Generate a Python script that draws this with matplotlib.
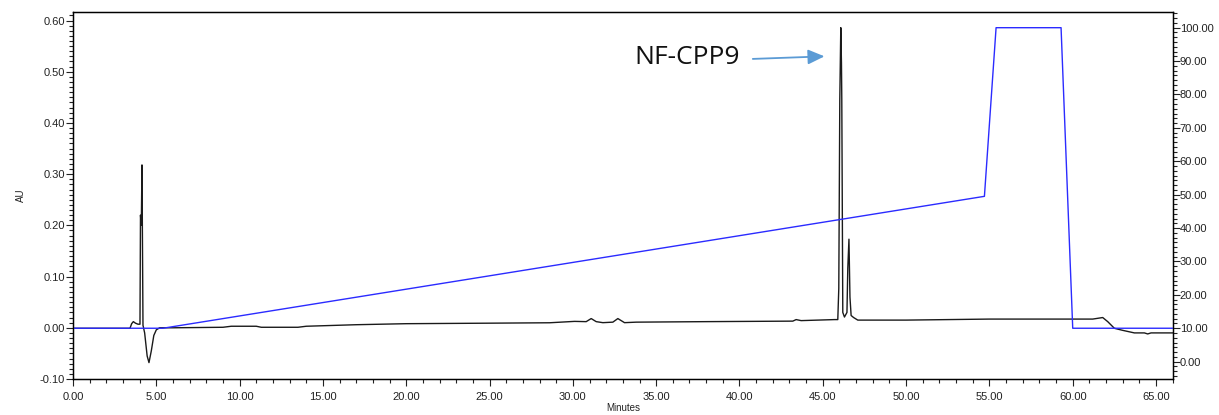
import matplotlib
matplotlib.use("Agg")
import matplotlib.pyplot as plt
from matplotlib.ticker import MultipleLocator, FormatStrFormatter, AutoMinorLocator

# ---- data -------------------------------------------------------------
time_min = [0.0, 3.42, 3.52, 3.62, 3.75, 3.9, 4.02, 4.05, 4.1, 4.14, 4.2, 4.3,
            4.45, 4.56, 4.7, 4.85, 5.0, 5.2, 6.0, 9.0, 9.5, 11.0, 11.3, 13.5,
            14.0, 15.0, 17.0, 20.0, 25.0, 28.6, 30.1, 30.8, 31.1, 31.4, 31.8,
            32.4, 32.7, 33.1, 33.8, 38.0, 43.2, 43.4, 43.7, 45.7, 45.9, 45.96,
            46.02, 46.08, 46.12, 46.14, 46.2, 46.3, 46.45, 46.5, 46.57, 46.63,
            46.7, 46.85, 47.1, 50.0, 55.0, 61.2, 61.8, 62.1, 62.5, 63.0, 63.7,
            64.3, 64.5, 64.7, 66.0]
absorbance_au = [-0.001, -0.001, 0.008, 0.012, 0.009, 0.007, 0.007, 0.22, 0.2,
                 0.318, 0.005, -0.01, -0.055, -0.068, -0.045, -0.015, -0.004,
                 0.0, 0.0, 0.001, 0.003, 0.003, 0.001, 0.001, 0.003, 0.004,
                 0.006, 0.008, 0.009, 0.0098, 0.0125, 0.012, 0.018, 0.012,
                 0.010, 0.011, 0.018, 0.010, 0.011, 0.012, 0.013, 0.016, 0.014,
                 0.016, 0.016, 0.077, 0.445, 0.586, 0.517, 0.447, 0.03, 0.021,
                 0.03, 0.116, 0.173, 0.06, 0.024, 0.02, 0.015, 0.015, 0.017,
                 0.017, 0.020, 0.012, -0.001, -0.005, -0.010, -0.010, -0.012,
                 -0.010, -0.010]

gradient_time = [0.0, 5.4, 54.7, 55.4, 59.3, 60.0, 66.0]
gradient_pct = [10, 10, 49.5, 100, 100, 10, 10]

peak_label = "NF-CPP9"
peak_label_pos = (33.7, 0.527)
arrow_start = (40.8, 0.525)
arrow_tip = (45.1, 0.530)

left_ticks = [-0.10, 0.00, 0.10, 0.20, 0.30, 0.40, 0.50, 0.60]
right_ticks = [0, 10, 20, 30, 40, 50, 60, 70, 80, 90, 100]
x_ticks = [0, 5, 10, 15, 20, 25, 30, 35, 40, 45, 50, 55, 60, 65]

# ---- figure -----------------------------------------------------------
plt.rcParams['font.family'] = ['Liberation Sans', 'DejaVu Sans']
fig = plt.figure(figsize=(12.19, 4.15), dpi=100)
ax = fig.add_axes([73 / 1219, 36 / 415, (1172.7 - 73) / 1219, (379 - 12) / 415])

ax.plot(time_min, absorbance_au, color='#1a1a1a', lw=1.0)
ax.set_xlim(0, 66.0)
ax.set_ylim(-0.10, 0.6166)
ax.set_xticks(x_ticks)
ax.set_yticks(left_ticks)
ax.xaxis.set_major_formatter(FormatStrFormatter('%.2f'))
ax.yaxis.set_major_formatter(FormatStrFormatter('%.2f'))
ax.xaxis.set_minor_locator(MultipleLocator(1))
ax.yaxis.set_minor_locator(MultipleLocator(0.01))
ax.tick_params(axis='both', which='major', direction='out', length=5, width=0.8,
               labelsize=8, colors='#222222')
ax.tick_params(axis='both', which='minor', direction='out', length=3, width=0.8,
               colors='#222222')
ax.tick_params(axis='x', which='major', pad=4)
ax.tick_params(axis='y', which='major', pad=1)
ax.set_xlabel('Minutes', fontsize=7, labelpad=1, color='#222222')
ax.set_ylabel('AU', fontsize=7, labelpad=10, color='#222222')
for s in ax.spines.values():
    s.set_linewidth(1.0)
    s.set_color('black')

ax2 = ax.twinx()
ax2.plot(gradient_time, gradient_pct, color='#2b2bff', lw=1.0)
ax2.set_ylim(-5.2, 104.7)
ax2.set_yticks(right_ticks)
ax2.yaxis.set_major_formatter(FormatStrFormatter('%.2f'))
ax2.yaxis.set_minor_locator(AutoMinorLocator(7))
ax2.tick_params(axis='y', which='major', direction='out', length=5, width=0.8,
                labelsize=8, pad=0, colors='#222222')
ax2.tick_params(axis='y', which='minor', direction='out', length=3, width=0.8,
                colors='#222222')

ax.annotate('', xy=arrow_tip, xytext=arrow_start,
            arrowprops=dict(arrowstyle='-|>,head_length=1.0,head_width=0.45',
                            color='#5b9bd5', lw=1.3, shrinkA=0, shrinkB=0),
            zorder=5)
ax.text(peak_label_pos[0], peak_label_pos[1], peak_label, fontsize=19,
        family=['Open Sans', 'DejaVu Sans'], ha='left', va='center',
        color='#111111')

fig.savefig('out.png', dpi=100)
